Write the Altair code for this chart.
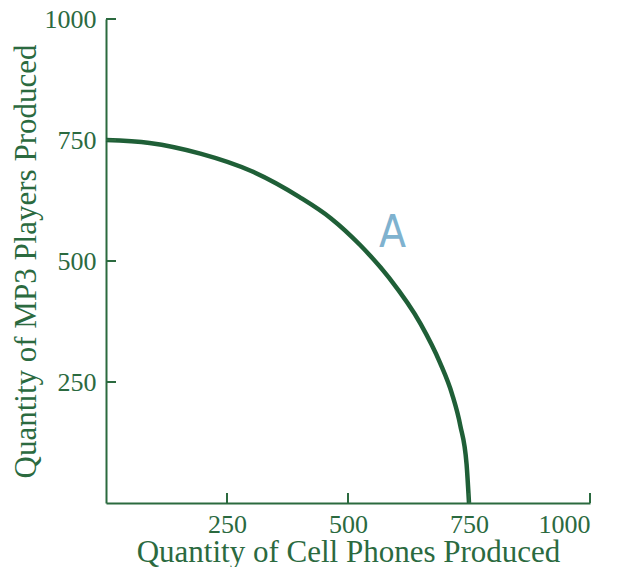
import altair as alt
import pandas as pd

# PPF curve points
cell_phones = [0, 90, 195, 300, 400, 465, 525, 585, 650, 690, 715, 732, 745, 750]
mp3_players = [750, 744, 722, 686, 632, 588, 533, 465, 370, 290, 225, 160, 80, 0]

tick_values = [250, 500, 750, 1000]
label_text = ["A"]
label_x = [592]
label_y = [556]

GREEN = "#2b6a3f"
CURVE = "#1f5f37"
BLUE = "#7fb2cf"
SERIF = "Liberation Serif"

curve_df = pd.DataFrame({"x": cell_phones, "y": mp3_players})
ticks_df = pd.DataFrame({"v": tick_values})
label_df = pd.DataFrame({"x": label_x, "y": label_y, "t": label_text})

xscale = alt.Scale(domain=[0, 1000], nice=False)
yscale = alt.Scale(domain=[0, 1000], nice=False)

xaxis = alt.Axis(
    title="Quantity of Cell Phones Produced", format="d",
    values=tick_values, tickSize=0, ticks=False, grid=False,
    domainColor=GREEN, domainWidth=2,
    labelColor=GREEN, labelFont=SERIF, labelFontSize=26, labelPadding=8,
    titleColor=GREEN, titleFont=SERIF, titleFontSize=31, titleFontWeight="normal",
    titlePadding=0,
)
yaxis = alt.Axis(
    title="Quantity of MP3 Players Produced", format="d",
    values=tick_values, tickSize=0, ticks=False, grid=False,
    domainColor=GREEN, domainWidth=2,
    labelColor=GREEN, labelFont=SERIF, labelFontSize=26, labelPadding=10,
    titleColor=GREEN, titleFont=SERIF, titleFontSize=31, titleFontWeight="normal",
    titlePadding=2,
)

curve = alt.Chart(curve_df).mark_line(
    color=CURVE, strokeWidth=4.5, interpolate="monotone", clip=False
).encode(
    x=alt.X("x:Q", scale=xscale, axis=xaxis),
    y=alt.Y("y:Q", scale=yscale, axis=yaxis),
)

xticks = alt.Chart(ticks_df).mark_rule(color=GREEN, strokeWidth=2).encode(
    x=alt.X("v:Q", scale=xscale),
    y=alt.value(484),
    y2=alt.value(474),
)
yticks = alt.Chart(ticks_df).mark_rule(color=GREEN, strokeWidth=2).encode(
    y=alt.Y("v:Q", scale=yscale),
    x=alt.value(0),
    x2=alt.value(10),
)

label = alt.Chart(label_df).mark_text(
    color=BLUE, font="DejaVu Sans Condensed", fontSize=44, fontWeight=300
).encode(
    x=alt.X("x:Q", scale=xscale),
    y=alt.Y("y:Q", scale=yscale),
    text="t:N",
)

chart = alt.layer(curve, xticks, yticks, label).properties(
    width=484, height=484,
    background="white",
    autosize=alt.AutoSizeParams(type="none"),
    padding={"left": 98, "top": 11, "right": 19, "bottom": 64},
).configure_view(strokeWidth=0, stroke=None)

chart.save("out.html", embed_options={"renderer": "svg", "actions": False})
